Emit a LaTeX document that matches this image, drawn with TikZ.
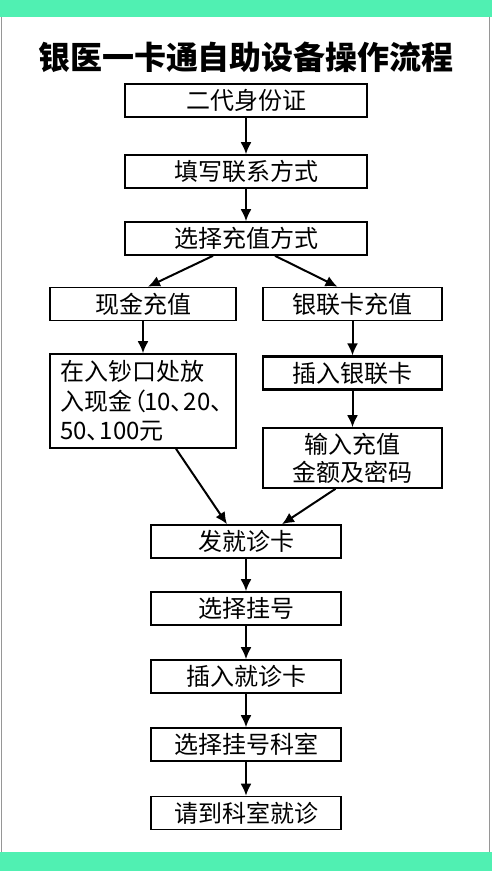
\documentclass[tikz,border=0pt]{standalone}
\usepackage{fontspec}
\setmainfont{Noto Sans CJK SC}
\usetikzlibrary{arrows.meta}
\definecolor{bar}{RGB}{80,240,178}
\definecolor{edge}{RGB}{150,150,150}
\newcommand\mydun{、\kern-0.45em}
\newcommand\myparen{\kern-0.4em（\kern-0.1em}
\tikzset{
  box/.style={draw=black, line width=1.6pt, minimum height=33pt, inner sep=0pt, font=\fontsize{24}{28}\selectfont},
  arr/.style={line width=2pt, -{Latex[length=12pt,width=11pt]}},
}
\begin{document}
\begin{tikzpicture}[x=1pt,y=-1pt]
\useasboundingbox (0,0) rectangle (492,871);
\fill[white] (0,0) rectangle (492,871);
\draw[edge, line width=1.5pt] (1.5,0) -- (1.5,871);
\draw[edge, line width=1.5pt] (489.5,0) -- (489.5,871);
\fill[bar] (0,0) rectangle (492,17);
\fill[bar] (0,852) rectangle (492,871);

\node (title) at (246,57) {\fontsize{32}{36}\selectfont\bfseries 银医一卡通自助设备操作流程};

\node[box, minimum width=242pt] (b1) at (246,100.5) {二代身份证};
\node[box, minimum width=242pt] (b2) at (246,171.5) {填写联系方式};
\node[box, minimum width=242pt] (b3) at (246,238.5) {选择充值方式};

\node[box, minimum width=186pt] (xj) at (143,304) {现金充值};
\node[box, minimum width=179pt] (yl) at (352.5,304) {银联卡充值};

\node[box, minimum width=186pt, minimum height=94pt, text width=172pt, align=left, font=\fontsize{24}{29.5}\selectfont] (fr) at (143,401) {\hspace*{3pt}在入钞口处放\\\hspace*{3pt}入现金\myparen 10\mydun 20\mydun\\\hspace*{3pt}50\mydun 100元};
\node[box, minimum width=179pt, line width=2.2pt] (cr) at (352.5,373) {插入银联卡};
\node[box, minimum width=179pt, minimum height=60pt, align=center, font=\fontsize{24}{28}\selectfont] (sr) at (352.5,458) {输入充值\\金额及密码};

\node[box, minimum width=190pt] (fk) at (246,541.5) {发就诊卡};
\node[box, minimum width=190pt] (gh) at (246,608.5) {选择挂号};
\node[box, minimum width=190pt] (ck) at (246,676.5) {插入就诊卡};
\node[box, minimum width=190pt] (ks) at (246,744.5) {选择挂号科室};
\node[box, minimum width=190pt] (jz) at (246,813) {请到科室就诊};

\draw[arr] (b1) -- (b2);
\draw[arr] (b2) -- (b3);
\draw[arr] ([xshift=-33pt]b3.south) -- ([xshift=5pt]xj.north);
\draw[arr] ([xshift=29pt]b3.south) -- ([xshift=-15pt]yl.north);
\draw[arr] (xj) -- (fr);
\draw[arr] (yl) -- (cr);
\draw[arr] (cr) -- (sr);
\draw[arr] ([xshift=33pt]fr.south) -- ([xshift=-19pt]fk.north);
\draw[arr] ([xshift=-17pt]sr.south) -- ([xshift=36pt]fk.north);
\draw[arr] (fk) -- (gh);
\draw[arr] (gh) -- (ck);
\draw[arr] (ck) -- (ks);
\draw[arr] (ks) -- (jz);
\end{tikzpicture}
\end{document}
